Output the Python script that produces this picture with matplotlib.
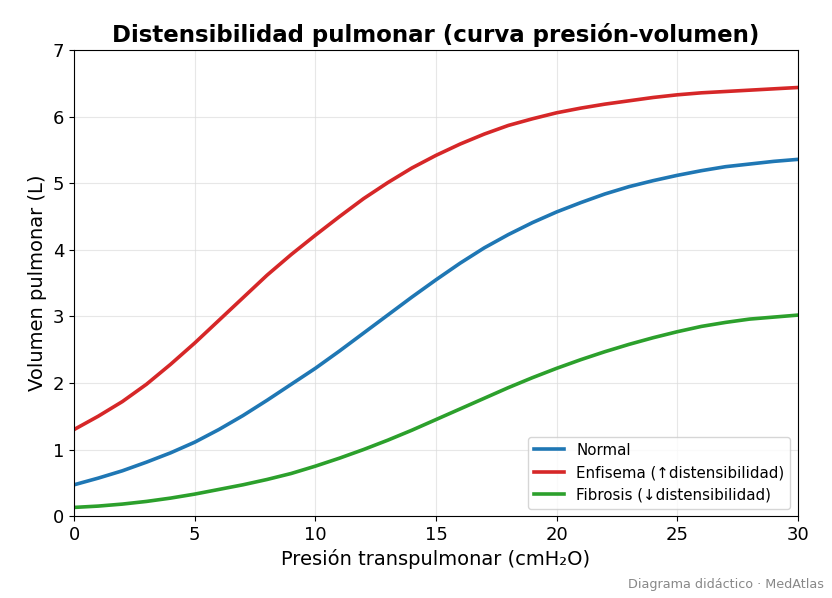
import matplotlib
matplotlib.use("Agg")
import matplotlib.pyplot as plt

# presion transpulmonar (cmH2O)
presion = list(range(0, 31))

# volumen pulmonar (L)
normal = [0.47, 0.57, 0.68, 0.81, 0.95, 1.11, 1.30, 1.51, 1.74, 1.98,
          2.22, 2.48, 2.75, 3.02, 3.29, 3.55, 3.80, 4.03, 4.23, 4.41,
          4.57, 4.71, 4.84, 4.95, 5.04, 5.12, 5.19, 5.25, 5.29, 5.33, 5.36]
enfisema = [1.30, 1.50, 1.72, 1.98, 2.28, 2.60, 2.94, 3.28, 3.62, 3.93,
            4.22, 4.50, 4.77, 5.01, 5.23, 5.42, 5.59, 5.74, 5.87, 5.97,
            6.06, 6.13, 6.19, 6.24, 6.29, 6.33, 6.36, 6.38, 6.40, 6.42, 6.44]
fibrosis = [0.13, 0.15, 0.18, 0.22, 0.27, 0.33, 0.40, 0.47, 0.55, 0.64,
            0.75, 0.87, 1.00, 1.14, 1.29, 1.45, 1.61, 1.77, 1.93, 2.08,
            2.22, 2.35, 2.47, 2.58, 2.68, 2.77, 2.85, 2.91, 2.96, 2.99, 3.02]

fig = plt.figure(figsize=(8.32, 5.98), dpi=100)
ax = fig.add_axes([0.089, 0.137, 0.870, 0.779])

ax.plot(presion, normal, color="tab:blue", lw=2.6, label="Normal")
ax.plot(presion, enfisema, color="tab:red", lw=2.6, label="Enfisema (↑distensibilidad)")
ax.plot(presion, fibrosis, color="tab:green", lw=2.6, label="Fibrosis (↓distensibilidad)")

ax.set_xlim(0, 30)
ax.set_ylim(0, 7)
ax.grid(True, color="#dddddd", lw=0.8, alpha=0.7)
ax.tick_params(labelsize=13)

ax.set_title("Distensibilidad pulmonar (curva presión-volumen)", fontsize=16.5, fontweight="bold")
ax.set_xlabel("Presión transpulmonar (cmH₂O)", fontsize=14)
ax.set_ylabel("Volumen pulmonar (L)", fontsize=14)
ax.legend(loc="lower right", fontsize=10.8)

fig.text(0.99, 0.012, "Diagrama didáctico · MedAtlas", ha="right", va="bottom", fontsize=9.2, color="#888888")

fig.savefig("out.png", dpi=100)
